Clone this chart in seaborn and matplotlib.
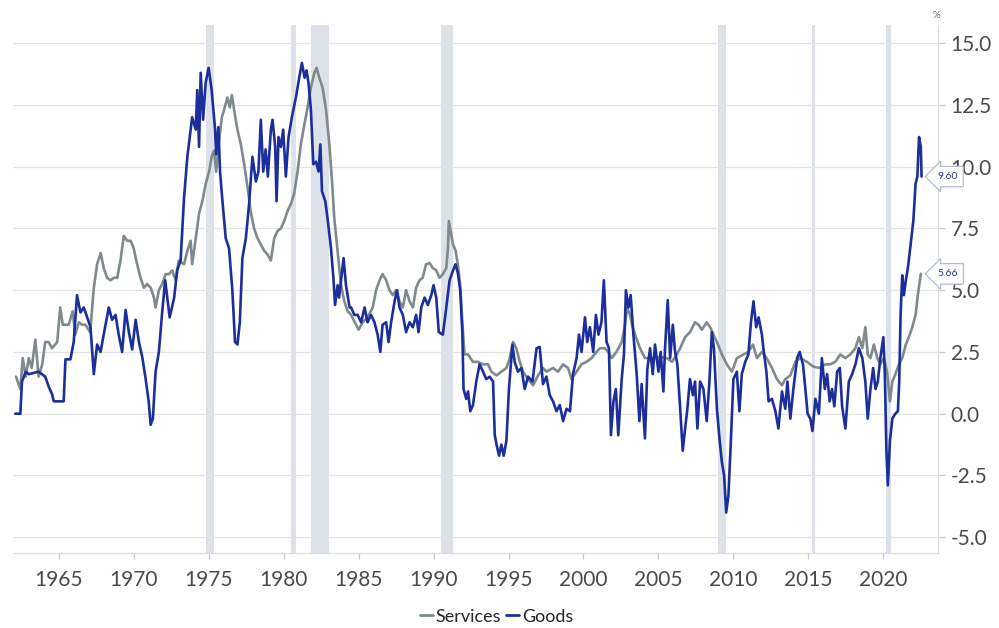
import matplotlib
matplotlib.use("Agg")
import matplotlib.pyplot as plt
from matplotlib import ticker as mtick
from matplotlib.lines import Line2D
import pandas as pd
import seaborn as sns


# goods inflation, % y/y
goods_years = [1962.1, 1962.44, 1962.55, 1962.8, 1963.0, 1963.66, 1964.1, 1964.33, 1964.55, 1964.67,
               1965.33, 1965.45, 1965.78, 1966.0, 1966.22, 1966.45, 1966.67, 1966.9, 1967.12, 1967.34,
               1967.56, 1967.79, 1968.0, 1968.34, 1968.56, 1968.79, 1969.0, 1969.23, 1969.46, 1969.68,
               1969.9, 1970.13, 1970.35, 1970.57, 1970.8, 1971.0, 1971.13, 1971.28, 1971.46, 1971.68,
               1971.9, 1972.1, 1972.4, 1972.7, 1972.9, 1973.13, 1973.36, 1973.58, 1973.8, 1973.9,
               1974.14, 1974.24, 1974.36, 1974.47, 1974.63, 1974.8, 1975.0, 1975.2, 1975.43, 1975.5,
               1975.65, 1975.76, 1975.9, 1976.14, 1976.36, 1976.58, 1976.76, 1976.92, 1977.08, 1977.25,
               1977.48, 1977.7, 1977.92, 1978.15, 1978.32, 1978.48, 1978.64, 1978.8, 1978.95, 1979.15,
               1979.26, 1979.44, 1979.53, 1979.66, 1979.82, 1979.97, 1980.15, 1980.33, 1980.55, 1980.82,
               1981.04, 1981.22, 1981.4, 1981.53, 1981.66, 1981.82, 1981.98, 1982.16, 1982.33, 1982.45,
               1982.56, 1982.78, 1982.93, 1983.16, 1983.32, 1983.43, 1983.6, 1983.7, 1984.0, 1984.16,
               1984.4, 1984.5, 1984.72, 1984.94, 1985.17, 1985.4, 1985.6, 1985.83, 1986.06, 1986.27,
               1986.45, 1986.6, 1986.84, 1987.0, 1987.17, 1987.4, 1987.57, 1987.73, 1987.95, 1988.17,
               1988.4, 1988.62, 1988.84, 1989.0, 1989.18, 1989.4, 1989.62, 1989.85, 1990.0, 1990.18,
               1990.35, 1990.62, 1990.85, 1991.07, 1991.3, 1991.47, 1991.62, 1991.78, 1991.92, 1992.0,
               1992.18, 1992.3, 1992.45, 1992.63, 1992.85, 1993.07, 1993.3, 1993.52, 1993.74, 1993.97,
               1994.08, 1994.2, 1994.37, 1994.52, 1994.68, 1994.86, 1995.03, 1995.26, 1995.41, 1995.63,
               1995.86, 1996.08, 1996.3, 1996.6, 1996.87, 1997.08, 1997.3, 1997.53, 1997.75, 1997.97,
               1998.2, 1998.42, 1998.64, 1998.87, 1999.1, 1999.3, 1999.54, 1999.7, 1999.87, 2000.1,
               2000.25, 2000.43, 2000.65, 2000.83, 2001.0, 2001.2, 2001.36, 2001.54, 2001.7, 2001.83,
               2002.0, 2002.16, 2002.32, 2002.55, 2002.7, 2002.83, 2003.0, 2003.15, 2003.33, 2003.55,
               2003.73, 2003.88, 2004.1, 2004.26, 2004.44, 2004.62, 2004.77, 2005.0, 2005.15, 2005.33,
               2005.44, 2005.62, 2005.78, 2005.96, 2006.1, 2006.26, 2006.45, 2006.62, 2006.78, 2006.93,
               2007.1, 2007.3, 2007.44, 2007.6, 2007.78, 2008.0, 2008.22, 2008.4, 2008.56, 2008.7,
               2008.9, 2009.07, 2009.23, 2009.38, 2009.52, 2009.67, 2009.83, 2010.0, 2010.23, 2010.4,
               2010.56, 2010.79, 2011.0, 2011.17, 2011.34, 2011.52, 2011.68, 2011.9, 2012.0, 2012.2,
               2012.35, 2012.57, 2012.8, 2013.0, 2013.24, 2013.46, 2013.6, 2013.8, 2014.0, 2014.25,
               2014.42, 2014.64, 2014.8, 2014.95, 2015.13, 2015.27, 2015.47, 2015.7, 2015.9, 2016.1,
               2016.25, 2016.42, 2016.58, 2016.73, 2016.92, 2017.1, 2017.25, 2017.47, 2017.7, 2017.92,
               2018.14, 2018.37, 2018.6, 2018.8, 2018.96, 2019.14, 2019.32, 2019.48, 2019.63, 2019.8,
               2020.0, 2020.1, 2020.2, 2020.3, 2020.44, 2020.6, 2020.8, 2020.97, 2021.06, 2021.15,
               2021.26, 2021.37, 2021.5, 2021.64, 2021.82, 2022.0, 2022.15, 2022.27, 2022.38, 2022.5,
               2022.55]
goods_vals = [0.0, 0.0, 1.3, 1.7, 1.6, 1.7, 1.5, 1.1, 0.8, 0.5,
              0.5, 2.2, 2.2, 2.9, 4.8, 4.1, 4.3, 3.9, 3.5, 1.6,
              2.8, 2.5, 3.2, 4.3, 3.8, 4.0, 3.2, 2.5, 4.2, 3.3,
              2.6, 3.8, 2.9, 2.3, 1.4, 0.5, -0.45, -0.2, 1.7, 2.5,
              4.1, 5.4, 3.9, 4.7, 5.8, 6.2, 8.75, 10.4, 11.5, 12.0,
              11.5, 13.1, 10.8, 13.8, 11.9, 13.4, 14.0, 13.1, 11.5, 10.5,
              11.6, 9.8, 8.75, 7.1, 6.7, 5.0, 2.9, 2.8, 3.7, 6.3,
              7.1, 8.5, 10.4, 9.4, 9.8, 11.9, 9.8, 10.7, 9.6, 11.5,
              11.9, 10.8, 8.6, 11.2, 10.8, 11.5, 9.6, 11.2, 12.0, 12.8,
              13.6, 14.2, 13.6, 13.9, 13.4, 12.3, 10.1, 10.2, 9.8, 10.9,
              9.0, 8.6, 7.9, 6.7, 5.5, 4.4, 5.2, 4.7, 6.3, 5.2,
              4.3, 4.3, 4.0, 4.0, 3.7, 4.3, 3.7, 4.0, 3.7, 3.2,
              2.5, 3.6, 3.7, 2.9, 3.7, 4.55, 5.0, 4.3, 4.0, 3.3,
              3.7, 3.5, 4.0, 3.3, 4.3, 4.7, 4.4, 4.8, 5.2, 4.7,
              3.3, 3.2, 4.3, 5.4, 5.8, 6.05, 5.7, 5.0, 3.3, 1.0,
              0.6, 0.9, 0.1, 0.35, 1.3, 2.0, 1.7, 1.4, 1.5, 1.3,
              -0.85, -1.25, -1.7, -1.25, -1.7, -1.1, 1.0, 2.8, 2.1, 1.7,
              1.85, 1.0, 1.5, 1.3, 2.65, 2.7, 1.2, 1.5, 0.75, 0.5,
              0.1, 0.35, -0.3, 0.2, 0.1, 1.6, 2.25, 3.2, 2.5, 3.9,
              2.9, 3.5, 2.5, 4.0, 3.2, 3.7, 5.4, 2.9, 2.65, -0.87,
              0.5, 1.0, -0.87, 1.4, 2.4, 5.0, 4.3, 4.8, 3.2, 1.6,
              -0.3, 1.2, -1.0, 1.8, 2.65, 1.6, 2.8, 1.7, 2.5, 0.9,
              2.65, 4.6, 2.25, 3.6, 2.55, 2.0, 0.2, -1.5, -0.6, 0.2,
              1.4, 0.75, 1.3, -0.6, 1.3, 1.0, -0.3, 1.3, 3.3, 2.65,
              0.2, -1.0, -1.95, -2.5, -4.0, -3.3, -1.1, 1.4, 1.7, 0.1,
              1.6, 2.1, 2.4, 3.7, 4.55, 3.5, 3.9, 3.2, 2.65, 1.7,
              0.5, 0.6, 0.1, -0.6, 0.9, 0.2, 1.3, -0.2, 1.0, 2.25,
              2.5, 2.0, 1.0, 0.0, -0.2, -0.7, 0.6, 0.0, 2.25, 1.0,
              1.6, 0.5, 1.0, 0.3, 1.7, 1.85, 0.3, -0.6, 1.3, 1.6,
              2.0, 2.65, 2.25, 1.3, -0.2, 1.0, 1.85, 1.0, 1.3, 2.25,
              3.1, 1.6, -1.4, -2.9, -1.1, -0.2, 0.0, 0.1, 1.3, 4.0,
              5.6, 4.8, 5.4, 5.9, 6.85, 7.8, 9.3, 9.6, 11.2, 10.8,
              9.6]

# services inflation, % y/y
services_years = [1962.15, 1962.44, 1962.6, 1962.8, 1963.0, 1963.2, 1963.44, 1963.66, 1963.9, 1964.1,
                  1964.33, 1964.55, 1964.9, 1965.1, 1965.27, 1965.67, 1965.93, 1966.1, 1966.34, 1966.56,
                  1966.78, 1967.1, 1967.34, 1967.56, 1967.8, 1968.0, 1968.23, 1968.45, 1968.67, 1968.9,
                  1969.12, 1969.34, 1969.56, 1969.8, 1970.0, 1970.23, 1970.46, 1970.68, 1970.9, 1971.13,
                  1971.35, 1971.46, 1971.68, 1971.9, 1972.13, 1972.35, 1972.57, 1972.8, 1973.0, 1973.36,
                  1973.58, 1973.8, 1973.9, 1974.14, 1974.36, 1974.58, 1974.8, 1975.03, 1975.2, 1975.36,
                  1975.5, 1975.7, 1975.88, 1976.03, 1976.25, 1976.41, 1976.55, 1976.7, 1976.92, 1977.15,
                  1977.37, 1977.6, 1977.8, 1978.03, 1978.26, 1978.48, 1978.7, 1978.92, 1979.15, 1979.37,
                  1979.6, 1979.82, 1980.04, 1980.26, 1980.49, 1980.7, 1980.93, 1981.15, 1981.38, 1981.6,
                  1981.82, 1982.05, 1982.2, 1982.38, 1982.6, 1982.83, 1983.05, 1983.23, 1983.38, 1983.6,
                  1983.83, 1984.05, 1984.27, 1984.5, 1984.83, 1985.0, 1985.27, 1985.6, 1985.94, 1986.17,
                  1986.4, 1986.6, 1986.84, 1987.06, 1987.28, 1987.5, 1987.73, 1987.95, 1988.17, 1988.4,
                  1988.62, 1988.84, 1989.06, 1989.28, 1989.5, 1989.73, 1989.95, 1990.18, 1990.4, 1990.62,
                  1990.85, 1990.96, 1991.02, 1991.14, 1991.3, 1991.47, 1991.62, 1991.78, 1991.92, 1992.07,
                  1992.3, 1992.63, 1992.96, 1993.3, 1993.63, 1993.86, 1994.2, 1994.52, 1994.86, 1995.08,
                  1995.3, 1995.52, 1995.75, 1995.97, 1996.3, 1996.64, 1996.97, 1997.3, 1997.53, 1997.97,
                  1998.3, 1998.64, 1998.97, 1999.2, 1999.54, 1999.87, 2000.2, 2000.54, 2000.87, 2001.1,
                  2001.43, 2001.65, 2001.88, 2002.2, 2002.55, 2002.77, 2002.92, 2003.1, 2003.28, 2003.5,
                  2003.77, 2004.1, 2004.44, 2004.77, 2005.1, 2005.56, 2005.9, 2006.23, 2006.45, 2006.78,
                  2007.1, 2007.44, 2007.67, 2007.9, 2008.22, 2008.45, 2008.67, 2008.9, 2009.23, 2009.56,
                  2009.9, 2010.23, 2010.68, 2011.0, 2011.3, 2011.57, 2011.9, 2012.22, 2012.57, 2012.9,
                  2013.24, 2013.46, 2013.8, 2014.13, 2014.46, 2014.9, 2015.35, 2015.8, 2016.13, 2016.46,
                  2016.8, 2017.13, 2017.47, 2017.8, 2018.14, 2018.37, 2018.6, 2018.8, 2018.96, 2019.14,
                  2019.37, 2019.6, 2019.8, 2020.03, 2020.25, 2020.44, 2020.6, 2020.8, 2021.04, 2021.26,
                  2021.5, 2021.7, 2021.93, 2022.15, 2022.3, 2022.5]
services_vals = [1.5, 1.0, 2.25, 1.5, 2.25, 1.85, 3.0, 1.5, 2.0, 2.9,
                 2.9, 2.65, 2.9, 4.3, 3.6, 3.6, 4.15, 3.2, 3.7, 3.6,
                 3.6, 3.3, 5.1, 6.05, 6.5, 5.9, 5.5, 5.4, 5.5, 5.5,
                 6.2, 7.2, 7.0, 7.0, 6.7, 6.05, 5.5, 5.1, 5.25, 5.1,
                 4.7, 4.3, 5.0, 5.25, 5.65, 5.65, 5.8, 5.4, 6.2, 6.05,
                 6.6, 7.0, 6.05, 7.1, 8.1, 8.6, 9.3, 9.8, 10.4, 10.65,
                 9.8, 11.05, 12.0, 12.3, 12.8, 12.4, 12.9, 12.3, 11.5, 10.9,
                 10.1, 9.15, 8.2, 7.5, 7.1, 6.85, 6.6, 6.45, 6.2, 7.1,
                 7.4, 7.5, 7.8, 8.2, 8.5, 8.9, 9.8, 10.9, 11.7, 12.4,
                 13.2, 13.8, 14.0, 13.6, 13.2, 12.3, 10.9, 9.4, 7.9, 6.6,
                 5.2, 4.55, 4.15, 4.0, 3.6, 3.4, 3.7, 3.9, 4.3, 5.0,
                 5.4, 5.65, 5.4, 5.0, 4.8, 5.0, 4.55, 4.3, 5.0, 4.55,
                 4.3, 5.1, 5.4, 5.5, 6.05, 6.1, 5.9, 5.8, 5.5, 5.65,
                 5.9, 6.7, 7.8, 7.4, 6.85, 6.6, 6.05, 5.2, 3.7, 2.4,
                 2.4, 2.1, 2.1, 2.0, 2.0, 1.7, 1.55, 1.7, 1.85, 2.25,
                 2.9, 2.65, 2.1, 1.7, 1.4, 1.15, 1.55, 1.85, 1.7, 1.85,
                 1.7, 2.0, 1.85, 1.4, 1.7, 2.0, 2.1, 2.25, 2.5, 2.65,
                 2.65, 2.5, 2.25, 2.5, 2.9, 3.6, 4.3, 4.0, 3.5, 3.1,
                 2.65, 2.25, 2.25, 2.25, 2.3, 2.25, 2.1, 2.4, 2.65, 3.1,
                 3.3, 3.7, 3.6, 3.4, 3.7, 3.5, 3.2, 2.9, 2.4, 2.0,
                 1.7, 2.25, 2.4, 2.5, 2.8, 2.25, 2.5, 2.25, 1.85, 1.4,
                 1.15, 1.4, 1.55, 2.1, 2.25, 2.1, 1.9, 1.85, 2.0, 2.0,
                 2.1, 2.4, 2.25, 2.4, 2.65, 3.1, 2.65, 3.5, 2.4, 2.25,
                 2.8, 2.25, 2.0, 2.25, 1.7, 0.5, 1.3, 1.6, 2.0, 2.25,
                 2.8, 3.1, 3.5, 4.0, 4.8, 5.66]

# shaded periods (start, end)
band_starts = [1974.8, 1980.49, 1981.82, 1990.5, 2009.0, 2015.25, 2020.2]
band_ends = [1975.36, 1980.82, 1983.05, 1991.3, 2009.52, 2015.47, 2020.48]

y_ticks = [-5.0, -2.5, 0.0, 2.5, 5.0, 7.5, 10.0, 12.5, 15.0]
x_ticks = [1965, 1970, 1975, 1980, 1985, 1990, 1995, 2000, 2005, 2010, 2015, 2020]

colors = {'Services': '#7f8a8d', 'Goods': '#1c2e9c'}


sns.set_style('white')
plt.rcParams['font.family'] = ['Lato', 'DejaVu Sans']

fig = plt.figure(figsize=(9.99, 6.28), dpi=100)
ax = fig.add_axes([0.013, 0.119, 0.926, 0.841])

for start, end in zip(band_starts, band_ends):
    ax.axvspan(start, end, color='#dde1e9', lw=0, zorder=0)

df = pd.concat([
    pd.DataFrame({'year': services_years, 'pct': services_vals, 'series': 'Services'}),
    pd.DataFrame({'year': goods_years, 'pct': goods_vals, 'series': 'Goods'}),
], ignore_index=True)

sns.lineplot(data=df, x='year', y='pct', hue='series', hue_order=['Services', 'Goods'],
             palette=colors, estimator=None, sort=False, lw=1.9, ax=ax, legend=False)

ax.set_xlim(1961.95, 2023.65)
ax.set_ylim(-5.65, 15.73)
ax.set_xticks(x_ticks)
ax.set_yticks(y_ticks)
ax.yaxis.tick_right()
ax.yaxis.set_major_formatter(mtick.FormatStrFormatter('%.1f'))
ax.set_xlabel('')
ax.set_ylabel('')
ax.yaxis.grid(True, color='#e4e4e4', lw=0.9)
ax.xaxis.grid(False)
ax.set_axisbelow(True)

for side in ['top', 'left']:
    ax.spines[side].set_visible(False)
for side in ['bottom', 'right']:
    ax.spines[side].set_color('#dcdcdc')
    ax.spines[side].set_linewidth(0.9)

ax.tick_params(axis='x', bottom=True, length=4, width=0.9, color='#c8c8c8',
               labelsize=15, labelcolor='#4a4a4a', pad=8)
ax.tick_params(axis='y', right=True, left=False, length=5, width=0.9, color='#c8c8c8',
               labelsize=15, labelcolor='#4a4a4a', pad=4)

fig.text(0.937, 0.976, '%', fontsize=7, color='#6a6a6a', ha='center', va='center')

# last value callouts, drawn over the axis labels like the original
for last in [goods_vals[-1], services_vals[-1]]:
    ax.text(0.999, last, f'{last:.2f}', transform=ax.get_yaxis_transform(),
            ha='left', va='center', fontsize=7.5, color='#2b3a7a', zorder=10, clip_on=False,
            bbox=dict(boxstyle='larrow,pad=0.55', fc='white', ec='#aab6c8', lw=0.8))

handles = [Line2D([0], [0], color=colors['Services'], lw=2),
           Line2D([0], [0], color=colors['Goods'], lw=2)]
fig.legend(handles, ['Services', 'Goods'], loc='center', bbox_to_anchor=(0.497, 0.018),
           ncol=2, frameon=False, fontsize=13, handlelength=0.7, handletextpad=0.15,
           columnspacing=0.3)

fig.savefig('out.png', dpi=100)
